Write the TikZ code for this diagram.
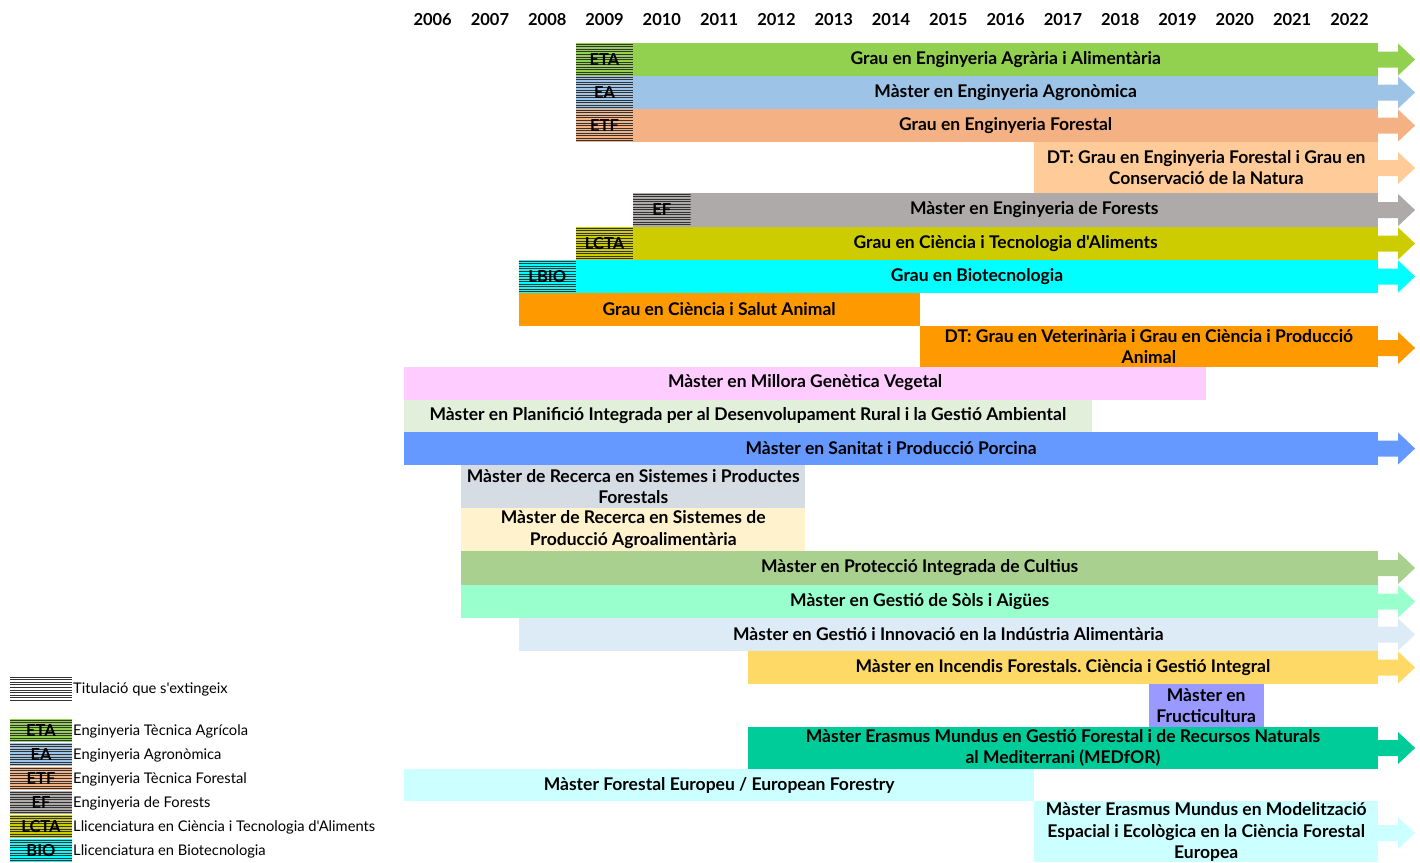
\documentclass[tikz,border=0pt]{standalone}
\usepackage{fontspec}
\setmainfont{Lato}[Ligatures=TeXOff]
\frenchspacing
\usetikzlibrary{calc}

\definecolor{cETA}{RGB}{146,208,80}
\definecolor{cEA}{RGB}{157,195,230}
\definecolor{cETF}{RGB}{244,177,131}
\definecolor{cDTF}{RGB}{255,204,153}
\definecolor{cEF}{RGB}{174,170,170}
\definecolor{cLCTA}{RGB}{204,204,0}
\definecolor{cBIO}{RGB}{0,255,255}
\definecolor{cSA}{RGB}{255,153,0}
\definecolor{cMGV}{RGB}{255,204,255}
\definecolor{cPI}{RGB}{226,239,218}
\definecolor{cSP}{RGB}{102,153,255}
\definecolor{cRF}{RGB}{214,220,228}
\definecolor{cRA}{RGB}{255,242,204}
\definecolor{cPC}{RGB}{169,208,142}
\definecolor{cGS}{RGB}{153,255,204}
\definecolor{cGI}{RGB}{221,235,247}
\definecolor{cIF}{RGB}{255,217,102}
\definecolor{cFR}{RGB}{153,153,255}
\definecolor{cMED}{RGB}{0,204,153}
\definecolor{cEU}{RGB}{204,255,255}

% x position of the start of a year column
\newcommand{\yr}[1]{\fpeval{404+(#1-2006)*57.3}}

\tikzset{
  yearlab/.style={font=\bfseries\fontsize{16.5}{18}\selectfont, inner sep=0pt},
  lab/.style={font=\bfseries\fontsize{17.5}{21.5}\selectfont, align=center, inner sep=0pt},
  leg/.style={font=\fontsize{14.7}{16}\selectfont, anchor=west, inner sep=0pt},
  oldlab/.style={font=\bfseries\fontsize{16.5}{17}\selectfont, inner sep=0pt},
  tip/.pic={
    \fill[pic actions] (0,-8) -- (20,-8) -- (20,-16) -- (37,0)
      -- (20,16) -- (20,8) -- (0,8) -- cycle;
  },
}

% hatched box of a degree that is being phased out
\newcommand{\oldbox}[6]{% name, colour, x1, y1, x2, y2
  \fill[#2] (#3,#4) rectangle (#5,#6);
  \begin{scope}
    \clip (#3,#4) rectangle (#5,#6);
    \foreach \k in {0,...,25}
      \draw[line width=0.9pt, black!80] (#3,{#4+1.2+\k*2.55}) -- (#5,{#4+1.2+\k*2.55});
  \end{scope}
  \coordinate (#1) at ({(#3+#5)/2},{(#4+#6)/2});
}

\begin{document}
\begin{tikzpicture}[x=1pt,y=-1pt]
\useasboundingbox (0,0) rectangle (1420,862);

% years
\foreach \y in {2006,...,2022}
  \node[yearlab] (y\y) at ({\yr{\y}+28.65},20) {\y};

% degrees
\oldbox{hETA}{cETA}{\yr{2009}}{43}{\yr{2010}}{76}
\node[oldlab] (oETA) at (hETA) {ETA};
\fill[cETA] (\yr{2010},43) rectangle (\yr{2023},76);
\node[lab] (gEAA) at ({(\yr{2010}+\yr{2023})/2},59.5) {Grau en Enginyeria Agrària i Alimentària};
\pic[fill=cETA] at (\yr{2023},59.5) {tip};

\oldbox{hEA}{cEA}{\yr{2009}}{76}{\yr{2010}}{109}
\node[oldlab] (oEA) at (hEA) {EA};
\fill[cEA] (\yr{2010},76) rectangle (\yr{2023},109);
\node[lab] (mEA) at ({(\yr{2010}+\yr{2023})/2},92.5) {Màster en Enginyeria Agronòmica};
\pic[fill=cEA] at (\yr{2023},92.5) {tip};

\oldbox{hETF}{cETF}{\yr{2009}}{109}{\yr{2010}}{142}
\node[oldlab] (oETF) at (hETF) {ETF};
\fill[cETF] (\yr{2010},109) rectangle (\yr{2023},142);
\node[lab] (gEF) at ({(\yr{2010}+\yr{2023})/2},125.5) {Grau en Enginyeria Forestal};
\pic[fill=cETF] at (\yr{2023},125.5) {tip};

\fill[cDTF] (\yr{2017},142) rectangle (\yr{2023},193);
\node[lab] (dtF) at ({(\yr{2017}+\yr{2023})/2},167.5) {DT: Grau en Enginyeria Forestal i Grau en\\Conservació de la Natura};
\pic[fill=cDTF] at (\yr{2023},168) {tip};

\oldbox{hEF}{cEF}{\yr{2010}}{193}{\yr{2011}}{227}
\node[oldlab] (oEF) at (hEF) {EF};
\fill[cEF] (\yr{2011},193) rectangle (\yr{2023},227);
\node[lab] (mEF) at ({(\yr{2011}+\yr{2023})/2},210) {Màster en Enginyeria de Forests};
\pic[fill=cEF] at (\yr{2023},210) {tip};

\oldbox{hLCTA}{cLCTA}{\yr{2009}}{227}{\yr{2010}}{260}
\node[oldlab] (oLCTA) at (hLCTA) {LCTA};
\fill[cLCTA] (\yr{2010},227) rectangle (\yr{2023},260);
\node[lab] (gCTA) at ({(\yr{2010}+\yr{2023})/2},243.5) {Grau en Ciència i Tecnologia d'Aliments};
\pic[fill=cLCTA] at (\yr{2023},243.5) {tip};

\oldbox{hBIO}{cBIO}{\yr{2008}}{260}{\yr{2009}}{293}
\node[oldlab] (oBIO) at (hBIO) {LBIO};
\fill[cBIO] (\yr{2009},260) rectangle (\yr{2023},293);
\node[lab] (gBIO) at ({(\yr{2009}+\yr{2023})/2},276.5) {Grau en Biotecnologia};
\pic[fill=cBIO] at (\yr{2023},276.5) {tip};

\fill[cSA] (\yr{2008},293) rectangle (\yr{2015},326);
\node[lab] (gSA) at ({(\yr{2008}+\yr{2015})/2},309.5) {Grau en Ciència i Salut Animal};

\fill[cSA] (\yr{2015},326) rectangle (\yr{2023},367);
\node[lab] (dtV) at ({(\yr{2015}+\yr{2023})/2},346.5) {DT: Grau en Veterinària i Grau en Ciència i Producció\\Animal};
\pic[fill=cSA] at (\yr{2023},348) {tip};

\fill[cMGV] (\yr{2006},367) rectangle (\yr{2020},400);
\node[lab] (mMGV) at ({(\yr{2006}+\yr{2020})/2},383) {Màster en Millora Genètica Vegetal};

\fill[cPI] (\yr{2006},400) rectangle (\yr{2018},432);
\node[lab] (mPI) at ({(\yr{2006}+\yr{2018})/2},416) {Màster en Planifició Integrada per al Desenvolupament Rural i la Gestió Ambiental};

\fill[cSP] (\yr{2006},432) rectangle (\yr{2023},465);
\node[lab] (mSP) at ({(\yr{2006}+\yr{2023})/2},448.5) {Màster en Sanitat i Producció Porcina};
\pic[fill=cSP] at (\yr{2023},448.5) {tip};

\fill[cRF] (\yr{2007},465) rectangle (\yr{2013},508);
\node[lab] (mRF) at ({(\yr{2007}+\yr{2013})/2},486.5) {Màster de Recerca en Sistemes i Productes\\Forestals};

\fill[cRA] (\yr{2007},508) rectangle (\yr{2013},551);
\node[lab] (mRA) at ({(\yr{2007}+\yr{2013})/2},529.5) {Màster de Recerca en Sistemes de\\Producció Agroalimentària};

\fill[cPC] (\yr{2007},551) rectangle (\yr{2023},585);
\node[lab] (mPC) at ({(\yr{2007}+\yr{2023})/2},568) {Màster en Protecció Integrada de Cultius};
\pic[fill=cPC] at (\yr{2023},568) {tip};

\fill[cGS] (\yr{2007},585) rectangle (\yr{2023},618);
\node[lab] (mGS) at ({(\yr{2007}+\yr{2023})/2},601.5) {Màster en Gestió de Sòls i Aigües};
\pic[fill=cGS] at (\yr{2023},601.5) {tip};

\fill[cGI] (\yr{2008},618) rectangle (\yr{2023},651);
\node[lab] (mGI) at ({(\yr{2008}+\yr{2023})/2},634.5) {Màster en Gestió i Innovació en la Indústria Alimentària};
\pic[fill=cGI] at (\yr{2023},634.5) {tip};

\fill[cIF] (\yr{2012},651) rectangle (\yr{2023},684);
\node[lab] (mIF) at ({(\yr{2012}+\yr{2023})/2},667.5) {Màster en Incendis Forestals. Ciència i Gestió Integral};
\pic[fill=cIF] at (\yr{2023},667.5) {tip};

\fill[cFR] (\yr{2019},684) rectangle (\yr{2021},727);
\node[lab] (mFR) at ({(\yr{2019}+\yr{2021})/2},705.5) {Màster en\\Fructicultura};

\fill[cMED] (\yr{2012},727) rectangle (\yr{2023},769);
\node[lab] (mMED) at ({(\yr{2012}+\yr{2023})/2},748) {Màster Erasmus Mundus en Gestió Forestal i de Recursos Naturals\\al Mediterrani (MEDfOR)};
\pic[fill=cMED] at (\yr{2023},748) {tip};

\fill[cEU] (\yr{2006},769) rectangle (\yr{2017},801);
\node[lab] (mEU) at ({(\yr{2006}+\yr{2017})/2},785) {Màster Forestal Europeu / European Forestry};

\fill[cEU] (\yr{2017},801) rectangle (\yr{2023},862);
\node[lab] (mMEF) at ({(\yr{2017}+\yr{2023})/2},832) {Màster Erasmus Mundus en Modelització\\Espacial i Ecològica en la Ciència Forestal\\Europea};
\pic[fill=cEU] at (\yr{2023},833) {tip};

% legend
\oldbox{lOld}{white}{10}{676}{72}{701}
\node[leg] (tOld) at (73,689) {Titulació que s'extingeix};

\oldbox{lETA}{cETA}{10}{719}{72}{742}
\node[oldlab] (kETA) at (lETA) {ETA};
\node[leg] (tETA) at (73,731) {Enginyeria Tècnica Agrícola};
\oldbox{lEA}{cEA}{10}{743}{72}{766}
\node[oldlab] (kEA) at (lEA) {EA};
\node[leg] (tEA) at (73,755) {Enginyeria Agronòmica};
\oldbox{lETF}{cETF}{10}{767}{72}{790}
\node[oldlab] (kETF) at (lETF) {ETF};
\node[leg] (tETF) at (73,779) {Enginyeria Tècnica Forestal};
\oldbox{lEF}{cEF}{10}{791}{72}{814}
\node[oldlab] (kEF) at (lEF) {EF};
\node[leg] (tEF) at (73,803) {Enginyeria de Forests};
\oldbox{lLCTA}{cLCTA}{10}{815}{72}{838}
\node[oldlab] (kLCTA) at (lLCTA) {LCTA};
\node[leg] (tLCTA) at (73,827) {Llicenciatura en Ciència i Tecnologia d'Aliments};
\oldbox{lBIO}{cBIO}{10}{839}{72}{862}
\node[oldlab] (kBIO) at (lBIO) {BIO};
\node[leg] (tBIO) at (73,851) {Llicenciatura en Biotecnologia};
\end{tikzpicture}
\end{document}
